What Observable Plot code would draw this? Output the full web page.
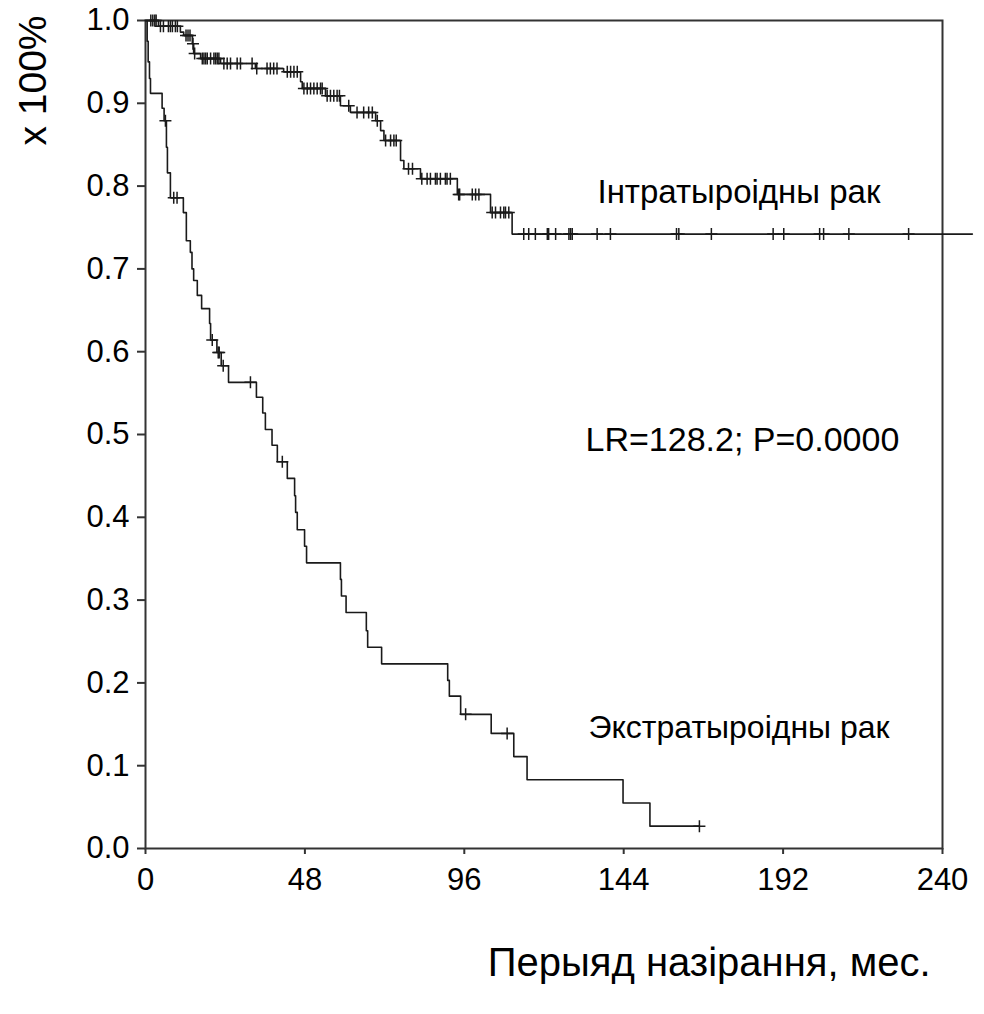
<!DOCTYPE html>
<html><head><meta charset="utf-8">
<script src="https://cdn.jsdelivr.net/npm/d3@7"></script>
<script src="https://cdn.jsdelivr.net/npm/@observablehq/plot@0.6"></script>
<style>body{margin:0;background:#fff} svg{display:block}</style>
</head><body><div id="chart"></div>
<script>
// Інтратыроідны рак: step times (months) and survival after each step
const intraTimes = [0, 3.9, 10.5, 11.5, 14.1, 14.5, 16.6, 22.6, 33.1, 41.6, 46.7, 47.2, 54.2, 58.7, 61.7, 69.3, 70.8, 71.8, 76.8, 77.8, 82.8, 93.9, 103.9, 110.4];
const intraSurv  = [1.0, 0.993, 0.986, 0.982, 0.972, 0.960, 0.954, 0.948, 0.942, 0.938, 0.926, 0.918, 0.909, 0.897, 0.889, 0.879, 0.867, 0.855, 0.831, 0.821, 0.809, 0.790, 0.768, 0.742];
const intraEnd = 249;
const intraCensor = [1.6, 2.2, 2.8, 3.2, 4.5, 5.4, 6.9, 7.5, 8.1, 9.0, 9.6, 12.2, 12.8, 13.4, 14.3, 14.8, 17.1, 17.6, 18.1, 18.6, 19.6, 20.6, 21.1, 21.6, 22.1, 23.6, 24.6, 25.6, 27.6, 28.6, 32.1, 33.5, 36.6, 37.6, 38.6, 39.6, 42.7, 43.7, 44.7, 45.7, 47.7, 48.7, 49.7, 50.7, 51.7, 52.7, 53.2, 54.7, 55.7, 56.7, 57.7, 58.4, 61.2, 63.7, 65.7, 67.2, 68.3, 69.8, 72.3, 73.8, 74.8, 75.5, 79.2, 80.4, 83.2, 84.8, 85.8, 87.3, 87.8, 88.8, 90.3, 90.8, 91.8, 94.3, 94.6, 98.4, 99.4, 100.4, 104.4, 105.4, 106.9, 107.9, 108.4, 109.4, 113.9, 115.4, 117.4, 121.0, 121.4, 123.5, 127.5, 128.0, 128.5, 136.0, 140.0, 159.9, 160.6, 170.4, 189.0, 192.2, 203.0, 204.2, 211.8, 229.8];

// Экстратыроідны рак
const extraTimes = [0, 0.5, 0.8, 1.2, 1.5, 5.0, 5.6, 6.3, 6.6, 7.5, 11.4, 12.3, 13.5, 14.0, 14.5, 15.6, 16.9, 19.3, 19.6, 21.5, 22.8, 25.0, 33.4, 35.3, 36.1, 38.1, 39.7, 42.7, 44.9, 45.2, 45.7, 47.9, 48.5, 58.7, 59.0, 60.4, 66.5, 66.9, 71.1, 91.0, 91.5, 94.9, 104.1, 110.9, 114.9, 143.8, 151.9];
const extraSurv  = [1.0, 0.975, 0.95, 0.93, 0.912, 0.894, 0.879, 0.847, 0.816, 0.786, 0.768, 0.734, 0.72, 0.70, 0.686, 0.668, 0.652, 0.634, 0.614, 0.599, 0.583, 0.563, 0.545, 0.526, 0.506, 0.487, 0.467, 0.447, 0.426, 0.406, 0.385, 0.365, 0.345, 0.325, 0.305, 0.285, 0.263, 0.243, 0.223, 0.203, 0.184, 0.162, 0.139, 0.111, 0.083, 0.055, 0.027];
const extraEnd = 166.8;
const extraCensor = [6.0, 8.5, 9.5, 20.1, 21.9, 22.2, 23.4, 31.6, 41.2, 96.4, 108.9, 166.8];

const xTicks = [0, 48, 96, 144, 192, 240];
const yTicks = [0, 0.1, 0.2, 0.3, 0.4, 0.5, 0.6, 0.7, 0.8, 0.9, 1.0];
const seriesNames = ["Інтратыроідны рак", "Экстратыроідны рак"];
const statText = "LR=128.2; P=0.0000";
const xTitle = "Перыяд назірання, мес.";
const yTitle = "x 100%";

// label anchors (data coordinates)
const labelTimes = [136.1, 132.5, 133.4];
const labelSurv  = [0.792, 0.493, 0.146];

const survAt = (times, surv, t) => surv[d3.bisectRight(times, t) - 1];
function stepRows(times, surv, end, name) {
  const rows = times.map((t, i) => ({t, s: surv[i], name}));
  rows.push({t: end, s: surv[surv.length - 1], name});
  return rows;
}
const lineRows = [
  ...stepRows(intraTimes, intraSurv, intraEnd, seriesNames[0]),
  ...stepRows(extraTimes, extraSurv, extraEnd, seriesNames[1])
];
const censorRows = [
  ...intraCensor.map(t => ({t, s: survAt(intraTimes, intraSurv, t)})),
  ...extraCensor.map(t => ({t, s: survAt(extraTimes, extraSurv, t)}))
];
const lbl = (text, i) => [{text, t: labelTimes[i], s: labelSurv[i]}];

const plusSymbol = {
  draw(ctx, size) {
    const r = Math.sqrt(size / Math.PI);
    ctx.moveTo(-r, 0); ctx.lineTo(r, 0);
    ctx.moveTo(0, -r); ctx.lineTo(0, r);
  }
};

const ink = "#1a1a1a";
const txt = {x: "t", y: "s", text: "text", textAnchor: "start", fill: "#000"};
const chart = Plot.plot({
  width: 984,
  height: 1014,
  marginLeft: 145,
  marginRight: 42,
  marginTop: 20,
  marginBottom: 166,
  style: {fontFamily: "'Liberation Sans', Arial, sans-serif", color: "#000", background: "#fff"},
  x: {domain: [0, 240]},
  y: {domain: [0, 1]},
  marks: [
    Plot.frame({stroke: "#333", strokeWidth: 2}),
    Plot.axisX({ticks: xTicks, tickSize: 6, tickPadding: 13, fontSize: 31, label: null, strokeWidth: 2, stroke: "#333"}),
    Plot.axisY({ticks: yTicks, tickSize: 8, tickPadding: 8, fontSize: 31, label: null, tickFormat: d3.format(".1f"), strokeWidth: 2, stroke: "#333"}),
    Plot.line(lineRows, {x: "t", y: "s", z: "name", curve: "step-after", stroke: ink, strokeWidth: 1.6}),
    Plot.dot(censorRows, {x: "t", y: "s", symbol: plusSymbol, r: 6, fill: "none", stroke: ink, strokeWidth: 1.5}),
    Plot.text(lbl(seriesNames[0], 0), {...txt, fontSize: 33}),
    Plot.text(lbl(statText, 1), {...txt, fontSize: 34}),
    Plot.text(lbl(seriesNames[1], 2), {...txt, fontSize: 32}),
    Plot.text([xTitle], {frameAnchor: "bottom-right", dx: -12, dy: 127, textAnchor: "end", fontSize: 40, fill: "#000"}),
    Plot.text([yTitle], {frameAnchor: "top-left", dx: -127, dy: 60, rotate: -90, textAnchor: "middle", fontSize: 39, fill: "#000"})
  ]
});
document.getElementById("chart").appendChild(chart);
</script>
</body></html>
